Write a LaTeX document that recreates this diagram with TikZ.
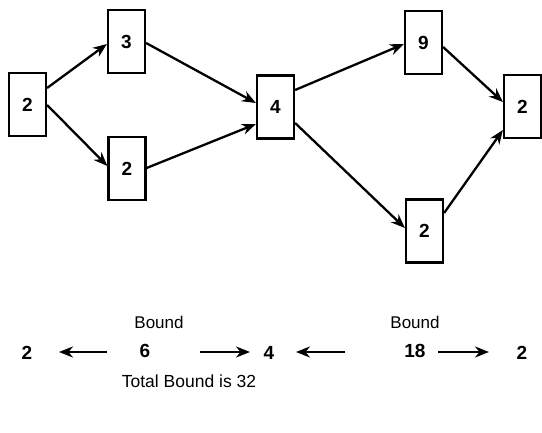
\documentclass[tikz,border=0pt]{standalone}
\usepackage{fontspec}
\setmainfont{Liberation Sans}
\usetikzlibrary{arrows.meta}
\begin{document}
\begin{tikzpicture}[x=1pt,y=-1pt,
  box/.style={draw,line width=2.2pt,minimum width=37pt,minimum height=63pt,inner sep=0pt,font=\fontsize{19}{21}\selectfont\bfseries},
  conn/.style={line width=2.3pt,-{Stealth[length=14pt,width=11pt]}},
  lbl/.style={inner sep=0pt,font=\fontsize{17}{19}\selectfont},
  num/.style={inner sep=0pt,font=\fontsize{19}{21}\selectfont\bfseries}]
\useasboundingbox (0,0) rectangle (542,432);
\node[box] (a) at (27.5,104.5) {2};
\node[box] (b) at (126.5,41.5) {3};
\node[box] (c) at (127,168.5) {2};
\node[box] (d) at (275.5,107) {4};
\node[box] (e) at (423.5,42.5) {9};
\node[box] (f) at (522.5,106.5) {2};
\node[box] (g) at (424.5,231) {2};
\draw[conn] (a.east|-0,88) -- (b.west|-0,44);
\draw[conn] (a.east|-0,105) -- (c.west|-0,166);
\draw[conn] (b.east|-0,43) -- (d.west|-0,103);
\draw[conn] (c.east|-0,168) -- (d.west|-0,124);
\draw[conn] (d.east|-0,90) -- (e.west|-0,44);
\draw[conn] (d.east|-0,123) -- (g.west|-0,228);
\draw[conn] (e.east|-0,47) -- (f.west|-0,102);
\draw[conn] (g.east|-0,213) -- (f.west|-0,130);
% bottom
\node[lbl] (b1) at (159,322) {Bound};
\node[lbl] (b2) at (415,322) {Bound};
\node[num] (n2a) at (27,353) {2};
\node[num] (n6) at (145,351) {6};
\node[num] (n4) at (269,353) {4};
\node[num] (n18) at (415,351) {18};
\node[num] (n2b) at (522,353) {2};
\coordinate (s1) at (107,352);
\coordinate (t1) at (59,352);
\coordinate (s2) at (200,352);
\coordinate (t2) at (250,352);
\coordinate (s3) at (345,352);
\coordinate (t3) at (296,352);
\coordinate (s4) at (438,352);
\coordinate (t4) at (489,352);
\draw[conn] (s1) -- (t1);
\draw[conn] (s2) -- (t2);
\draw[conn] (s3) -- (t3);
\draw[conn] (s4) -- (t4);
\node[lbl,font=\fontsize{17.5}{19}\selectfont] (tot) at (189,381) {Total Bound is 32};
\end{tikzpicture}
\end{document}
